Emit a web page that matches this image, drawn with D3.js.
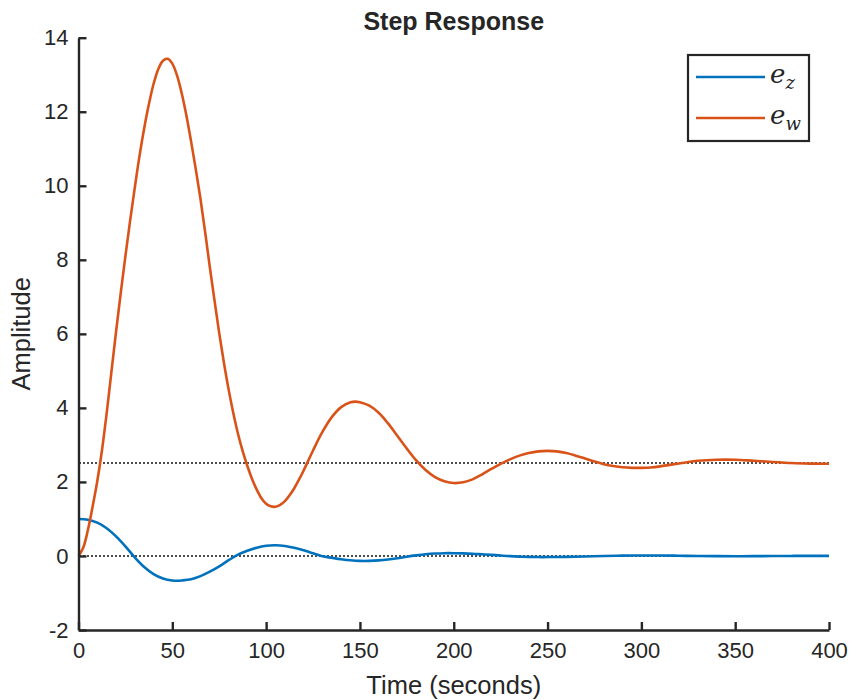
<!DOCTYPE html>
<html>
<head>
<meta charset="utf-8">
<script src="https://cdn.jsdelivr.net/npm/d3@7"></script>
<style>
  html, body { margin: 0; padding: 0; background: #fff; }
  svg { display: block; }
  text { font-family: "Liberation Sans", Arial, Helvetica, sans-serif; fill: #262626; }
</style>
</head>
<body>
<svg id="chart" width="850" height="700"></svg>
<script>
// Step response samples: time (s) and amplitude of each output
const timeZ = [0, 5, 10, 15, 20, 25, 30, 35, 40, 45, 50, 52.5, 55, 60, 65, 70, 75, 80, 85, 90, 95, 100, 105,
  110, 115, 120, 125, 130, 135, 140, 145, 150, 155, 160, 165, 170, 175, 180, 185, 190, 195, 200, 205, 210,
  215, 220, 225, 230, 235, 240, 245, 250, 260, 270, 280, 290, 300, 310, 320, 330, 340, 350, 360, 370, 380, 390, 400];
const ez = [1.0, 0.98, 0.9, 0.75, 0.53, 0.26, -0.04, -0.3, -0.49, -0.61, -0.665, -0.67, -0.662, -0.628, -0.545, -0.425,
  -0.28, -0.115, 0.036, 0.14, 0.225, 0.277, 0.29,
  0.27, 0.22, 0.155, 0.072, -0.01, -0.05, -0.088, -0.117, -0.133, -0.133, -0.12, -0.095, -0.06, -0.02, 0.015, 0.045,
  0.065, 0.075, 0.075, 0.07, 0.06,
  0.045, 0.03, 0.012, -0.005, -0.017, -0.025, -0.03, -0.03, -0.024, -0.013, 0.0, 0.01, 0.014, 0.012, 0.006, 0.0,
  -0.004, -0.006, -0.005, -0.002, 0.001, 0.002, 0.002];

const timeW = [0, 2.5, 5, 7.5, 10, 12.5, 15, 17.5, 20, 22.5, 25, 27.5, 30, 32.5, 35, 37.5, 40, 42.5, 45, 47.5, 50,
  52.5, 55, 57.5, 60, 62.5, 65, 67.5, 70, 72.5, 75, 77.5, 80, 82.5, 85, 87.5, 90, 92.5, 95, 97.5, 100, 102.5, 105,
  107.5, 110, 112.5, 115, 117.5, 120, 125, 130, 135, 140, 145, 147.5, 150, 155, 160, 165, 170, 175, 180, 185, 190, 195,
  200, 205, 210, 215, 220, 225, 230, 235, 240, 245, 250, 255, 260, 265, 270, 275, 280, 285, 290, 295, 300, 305, 310,
  315, 320, 325, 330, 340, 350, 360, 370, 375, 380, 390, 400];
const ew = [0, 0.22, 0.7, 1.33, 2.02, 2.85, 3.85, 4.95, 6.05, 7.1, 8.1, 9.05, 9.95, 10.8, 11.55, 12.2, 12.75, 13.15, 13.38, 13.43, 13.3,
  12.98, 12.5, 11.9, 11.2, 10.45, 9.65, 8.75, 7.8, 6.9, 6.02, 5.22, 4.5, 3.86, 3.3, 2.83, 2.43, 2.08, 1.79, 1.56, 1.41, 1.34, 1.33,
  1.38, 1.48, 1.64, 1.83, 2.06, 2.31, 2.85, 3.35, 3.75, 4.02, 4.15, 4.17, 4.15, 4.06, 3.87, 3.58, 3.24, 2.9, 2.58, 2.32, 2.13, 2.02,
  1.97, 1.99, 2.07, 2.2, 2.35, 2.49, 2.61, 2.71, 2.78, 2.825, 2.84, 2.825, 2.78, 2.71, 2.63, 2.55, 2.48, 2.43, 2.395, 2.38, 2.38, 2.39, 2.42,
  2.46, 2.5, 2.54, 2.57, 2.6, 2.6, 2.57, 2.54, 2.525, 2.51, 2.495, 2.49];

// Final (steady-state) values drawn as dotted reference lines
const steadyValues = [0, 2.52];

const seriesNames = ["z", "w"];
const seriesColors = ["#0072BD", "#D95319"];

const xTicks = [0, 50, 100, 150, 200, 250, 300, 350, 400];
const yTicks = [-2, 0, 2, 4, 6, 8, 10, 12, 14];

const svg = d3.select("#chart");
const margin = { left: 78.5, right: 21, top: 37.7, bottom: 70 };
const W = 850, H = 700;

const x = d3.scaleLinear().domain([0, 400]).range([margin.left, W - margin.right]);
const y = d3.scaleLinear().domain([-2, 14]).range([H - margin.bottom, margin.top]);

// Steady-state dotted lines
svg.append("g").selectAll("line").data(steadyValues).join("line")
  .attr("x1", Math.round(x(0))).attr("x2", x(400))
  .attr("y1", d => Math.round(y(d))).attr("y2", d => Math.round(y(d)))
  .attr("stroke", "#4d4d4d").attr("stroke-width", 2)
  .attr("stroke-dasharray", "2,2")
  .attr("shape-rendering", "crispEdges");

// Response curves
const line = d3.line().curve(d3.curveCatmullRom.alpha(0.5))
  .x(d => x(d[0])).y(d => y(d[1]));

const series = [
  d3.zip(timeZ, ez),
  d3.zip(timeW, ew)
];

svg.append("g").selectAll("path").data(series).join("path")
  .attr("d", line)
  .attr("fill", "none")
  .attr("stroke", (d, i) => seriesColors[i])
  .attr("stroke-width", 2.6)
  .attr("stroke-linejoin", "round");

// Axes (ticks pointing inward)
const fmt = d => String(d);
const xAxis = d3.axisBottom(x).tickValues(xTicks).tickFormat(fmt).tickSizeInner(-8).tickSizeOuter(0).tickPadding(9);
const yAxis = d3.axisLeft(y).tickValues(yTicks).tickFormat(fmt).tickSizeInner(-8).tickSizeOuter(0).tickPadding(10);

const gx = svg.append("g").attr("transform", `translate(0,${y(-2)})`).call(xAxis);
const gy = svg.append("g").attr("transform", `translate(${x(0)},0)`).call(yAxis);

[gx, gy].forEach(g => {
  g.select(".domain").attr("stroke", "#262626").attr("stroke-width", 2.4);
  g.selectAll(".tick line").attr("stroke", "#262626").attr("stroke-width", 2.4);
  g.selectAll(".tick text")
    .attr("font-family", "'Liberation Sans', Arial, Helvetica, sans-serif")
    .attr("font-size", 22).attr("fill", "#262626");
});
gx.selectAll(".tick text").attr("dy", "0.85em");

// Title and axis labels
svg.append("text").attr("x", x(200)).attr("y", 30)
  .attr("text-anchor", "middle").attr("font-size", 25).attr("font-weight", "bold")
  .attr("fill", "#000").text("Step Response");

svg.append("text").attr("x", x(200)).attr("y", 694)
  .attr("text-anchor", "middle").attr("font-size", 25.5).text("Time (seconds)");

svg.append("text").attr("transform", `translate(30,${y(6)}) rotate(-90)`)
  .attr("text-anchor", "middle").attr("font-size", 25.5).text("Amplitude");

// Legend
const legend = svg.append("g").attr("transform", "translate(688,55)");
legend.append("rect").attr("width", 121).attr("height", 86)
  .attr("fill", "#fff").attr("stroke", "#262626").attr("stroke-width", 2.2);
seriesNames.forEach((name, i) => {
  const ly = 22 + i * 41;
  legend.append("line").attr("x1", 8).attr("x2", 77).attr("y1", ly).attr("y2", ly)
    .attr("stroke", seriesColors[i]).attr("stroke-width", 2.6);
  const t = legend.append("text").attr("x", 82).attr("y", ly + 6)
    .style("font-family", "'DejaVu Serif', 'Liberation Serif', serif")
    .style("font-style", "italic").attr("font-size", 26).attr("fill", "#000");
  t.append("tspan").text("e");
  t.append("tspan").attr("dy", 6).attr("font-size", 18).text(name);
});
</script>
</body>
</html>
